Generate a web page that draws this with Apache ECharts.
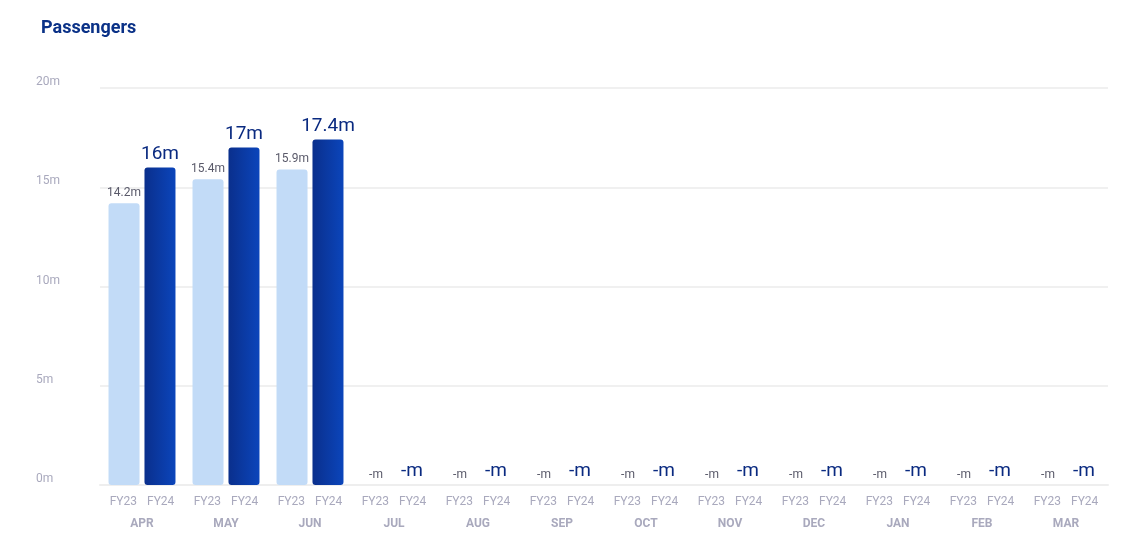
<!DOCTYPE html><html><head><meta charset="utf-8"><script src="https://cdn.jsdelivr.net/npm/echarts@6/dist/echarts.min.js"></script>
<style>html,body{margin:0;background:#fff}#c{width:1130px;height:545px}</style></head><body><div id="c"></div><script>
const months=['APR','MAY','JUN','JUL','AUG','SEP','OCT','NOV','DEC','JAN','FEB','MAR'];
const fy23=[14.2,15.4,15.9,null,null,null,null,null,null,null,null,null];
const fy24=[16,17,17.4,null,null,null,null,null,null,null,null,null];
const yTicks=[0,5,10,15,20];
const ch=echarts.init(document.getElementById('c'));
const mk=a=>a.map(v=>v==null?{value:0,raw:null}:{value:v,raw:v});
ch.setOption({
 title:{text:'Passengers',left:36,top:14,textStyle:{fontFamily:'Roboto',fontSize:18,fontWeight:'bold',color:'#0a3187'}},
 grid:{left:100,right:22,top:88,bottom:60},
 xAxis:{type:'category',data:months,axisTick:{show:false},axisLine:{lineStyle:{color:'#eeeeee',width:2}},
  axisLabel:{interval:0,margin:6,formatter:m=>'{a|FY23}   {a|FY24}\n{b|'+m+'}',
   rich:{a:{fontFamily:'Roboto',fontSize:12,color:'#a9a9bd',lineHeight:22},b:{fontFamily:'Roboto',fontSize:12,fontWeight:'bold',color:'#a9a9bd',lineHeight:22}}}},
 yAxis:{type:'value',min:0,max:20,interval:5,
  axisLabel:{align:'left',margin:64,verticalAlign:'bottom',fontFamily:'Roboto',fontSize:12,color:'#a9a9bd',formatter:v=>yTicks.includes(v)?v+'m':''},
  splitLine:{lineStyle:{color:'#f0f0f0',width:2}}},
 series:[
  {type:'bar',data:mk(fy23),barWidth:31,barGap:'16%',itemStyle:{color:'#c2dbf7',borderRadius:3},
   label:{show:true,position:'top',distance:4,fontFamily:'Roboto',fontSize:12,color:'#5a5a6a',formatter:p=>(p.data.raw==null?'-':p.data.raw)+'m'}},
  {type:'bar',data:mk(fy24),barWidth:31,itemStyle:{borderRadius:3,color:new echarts.graphic.LinearGradient(0,0,1,0,[{offset:0,color:'#0a2f8c'},{offset:1,color:'#0b45bb'}])},
   label:{show:true,position:'top',distance:4,fontFamily:'Roboto',fontSize:19,color:'#0a2a80',formatter:p=>(p.data.raw==null?'-':p.data.raw)+'m'}}
 ]
});
</script></body></html>
